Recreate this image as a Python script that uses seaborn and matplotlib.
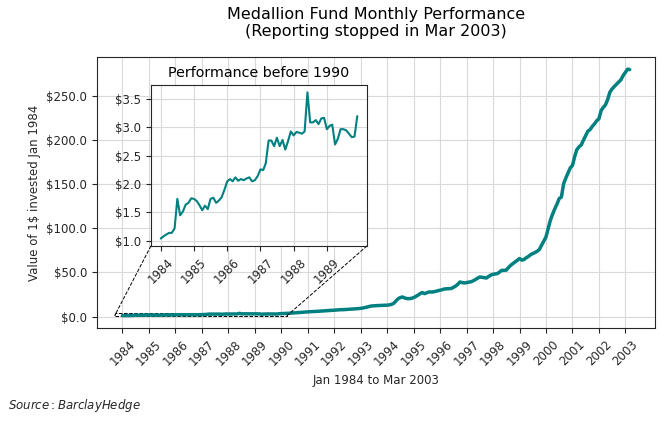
import numpy as np
import pandas as pd
import matplotlib
matplotlib.use("Agg")
import matplotlib.pyplot as plt
import matplotlib.dates as mdates
from matplotlib.ticker import StrMethodFormatter
from mpl_toolkits.axes_grid1.inset_locator import mark_inset
import seaborn as sns

# Monthly value of $1 invested in Jan 1984
vals_1984_1989 = [
    1.04, 1.08, 1.11, 1.14, 1.14, 1.22, 1.74, 1.45, 1.52, 1.64, 1.67, 1.75,
    1.74, 1.70, 1.63, 1.54, 1.62, 1.56, 1.74, 1.76, 1.67, 1.71, 1.77, 1.90,
    2.05, 2.09, 2.05, 2.12, 2.06, 2.09, 2.07, 2.10, 2.12, 2.05, 2.07, 2.14,
    2.26, 2.25, 2.37, 2.77, 2.77, 2.67, 2.82, 2.67, 2.78, 2.61, 2.76, 2.93,
    2.86, 2.92, 2.91, 2.89, 2.93, 3.62, 3.09, 3.09, 3.13, 3.06, 3.16, 3.17,
    2.97, 3.03, 3.05, 2.70, 2.80, 2.97, 2.97, 2.95, 2.89, 2.83, 2.84, 3.20,
]
vals_1990_2003 = [
    3.3, 3.4, 3.6, 3.7, 3.8, 4.0, 4.2, 4.3, 4.5, 4.8, 5.0, 5.2,
    5.4, 5.5, 5.6, 5.8, 5.8, 6.0, 6.2, 6.3, 6.5, 6.7, 6.9, 7.0,
    7.2, 7.4, 7.6, 7.8, 7.8, 8.0, 8.1, 8.3, 8.5, 8.6, 8.8, 9.0,
    9.3, 9.7, 10.2, 10.8, 11.5, 12.0, 12.2, 12.3, 12.5, 12.6, 12.7, 12.8,
    12.9, 13.2, 13.8, 15.0, 17.5, 20.2, 21.5, 22.2, 21.0, 20.4, 20.3, 20.6,
    21.5, 22.8, 24.2, 26.0, 27.2, 26.0, 27.0, 27.9, 27.8, 28.0, 28.6, 29.3,
    29.8, 30.5, 31.3, 31.5, 31.6, 31.8, 33.0, 34.5, 36.5, 39.2, 38.5, 38.1,
    38.5, 39.0, 39.4, 40.5, 41.9, 43.5, 44.9, 44.5, 44.0, 43.7, 45.5, 47.0,
    47.9, 48.3, 48.7, 50.5, 52.4, 52.4, 52.6, 55.5, 58.1, 60.0, 61.9, 64.0,
    65.7, 64.0, 64.5, 66.5, 68.0, 70.0, 71.4, 72.5, 74.0, 76.0, 80.8, 85.5,
    90.2, 100.0, 109.0, 116.0, 122.0, 127.5, 133.7, 135.5, 150.7, 157.0, 163.0, 168.5,
    171.4, 181.6, 189.0, 192.5, 194.5, 200.0, 205.0, 210.2, 212.0, 215.6, 218.5, 222.0,
    224.3, 233.7, 237.0, 240.0, 246.0, 254.4, 258.0, 260.9, 263.5, 266.0, 268.5, 273.3,
    277.0, 280.5, 280.0,
]

values = vals_1984_1989 + vals_1990_2003
dates = pd.date_range("1984-01-01", periods=len(values), freq="MS")
df = pd.DataFrame({"date": dates, "value": values})
early = df[df["date"] < "1990-01-01"]

sns.set_style("ticks", {"axes.grid": True, "grid.color": "#d9d9d9"})
plt.rcParams["font.family"] = ["DejaVu Sans"]

fig = plt.figure(figsize=(6.65, 4.21), dpi=100)
ax = fig.add_axes([0.146, 0.221, 0.839, 0.644])

# Main chart
sns.lineplot(data=df, x="date", y="value", ax=ax, color="teal", linewidth=2.5)
ax.set_xticks(df["date"][df["date"].dt.month == 1])
ax.xaxis.set_major_formatter(mdates.DateFormatter("%Y"))
ax.yaxis.set_major_formatter(StrMethodFormatter("${x:.1f}"))
ax.tick_params(labelsize=8.5)
plt.setp(ax.get_xticklabels(), rotation=45)
ax.set_xlabel("Jan 1984 to Mar 2003", fontsize=8.5)
ax.set_ylabel("Value of 1$ invested Jan 1984", fontsize=8.5)
ax.set_title("Medallion Fund Monthly Performance\n(Reporting stopped in Mar 2003)",
             fontsize=11.5, pad=15, color="black")

# Inset for the years before 1990
axins = fig.add_axes([0.227, 0.416, 0.325, 0.382])
sns.lineplot(data=early, x="date", y="value", ax=axins, color="teal", linewidth=1.5)
axins.set_xticks(early["date"][early["date"].dt.month == 1])
axins.xaxis.set_major_formatter(mdates.DateFormatter("%Y"))
axins.yaxis.set_major_formatter(StrMethodFormatter("${x:.1f}"))
axins.tick_params(labelsize=8.5)
plt.setp(axins.get_xticklabels(), rotation=45)
axins.set_xlabel("")
axins.set_ylabel("")
axins.set_title("Performance before 1990", fontsize=10.3, color="black")

mark_inset(ax, axins, loc1=3, loc2=4, fc="none", ec="black", ls="--", lw=0.7)

fig.text(0.012, 0.028, r"$Source: BarclayHedge$", fontsize=8.5)

fig.savefig("out.png", dpi=100)
